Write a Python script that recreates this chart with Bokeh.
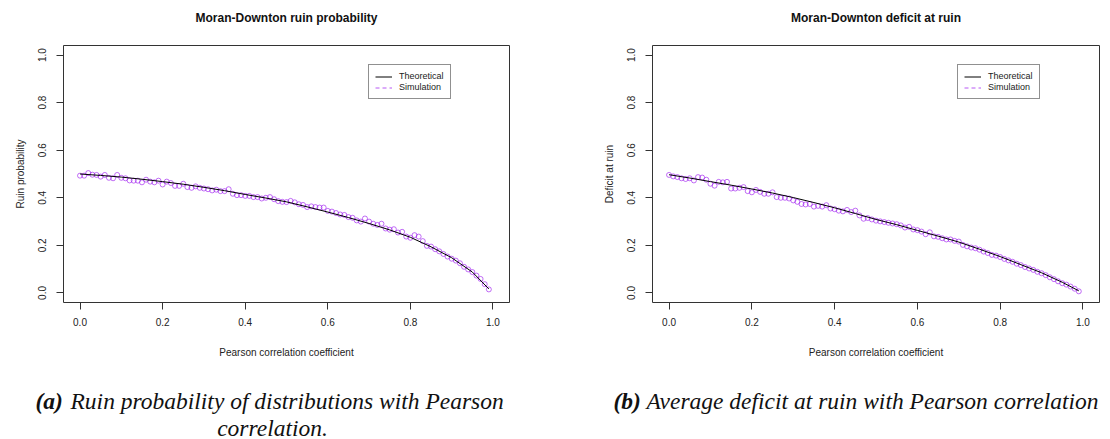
from bokeh.plotting import figure
from bokeh.layouts import row, column
from bokeh.models import FixedTicker, PrintfTickFormatter, Range1d, Legend, LegendItem
from bokeh.core.properties import value
from bokeh.embed import file_html
from bokeh.resources import INLINE

# ---------------- data ----------------
rho_sim = [0.00, 0.01, 0.02, 0.03, 0.04, 0.05, 0.06, 0.07, 0.08, 0.09,
           0.10, 0.11, 0.12, 0.13, 0.14, 0.15, 0.16, 0.17, 0.18, 0.19,
           0.20, 0.21, 0.22, 0.23, 0.24, 0.25, 0.26, 0.27, 0.28, 0.29,
           0.30, 0.31, 0.32, 0.33, 0.34, 0.35, 0.36, 0.37, 0.38, 0.39,
           0.40, 0.41, 0.42, 0.43, 0.44, 0.45, 0.46, 0.47, 0.48, 0.49,
           0.50, 0.51, 0.52, 0.53, 0.54, 0.55, 0.56, 0.57, 0.58, 0.59,
           0.60, 0.61, 0.62, 0.63, 0.64, 0.65, 0.66, 0.67, 0.68, 0.69,
           0.70, 0.71, 0.72, 0.73, 0.74, 0.75, 0.76, 0.77, 0.78, 0.79,
           0.80, 0.81, 0.82, 0.83, 0.84, 0.85, 0.86, 0.87, 0.88, 0.89,
           0.90, 0.91, 0.92, 0.93, 0.94, 0.95, 0.96, 0.97, 0.98, 0.99]

rho_th = [0.00, 0.05, 0.10, 0.15, 0.20, 0.25, 0.30, 0.35, 0.40, 0.45, 0.50,
          0.55, 0.60, 0.65, 0.70, 0.75, 0.80, 0.85, 0.90, 0.95, 0.99]

ruin_theoretical = [0.500, 0.494, 0.487, 0.478, 0.468, 0.457, 0.444, 0.430, 0.414, 0.399, 0.383,
                    0.362, 0.340, 0.317, 0.292, 0.265, 0.234, 0.194, 0.148, 0.088, 0.017]

ruin_simulation = [0.493, 0.493, 0.504, 0.497, 0.496, 0.489, 0.496, 0.484, 0.482, 0.496,
                   0.484, 0.482, 0.473, 0.472, 0.472, 0.465, 0.476, 0.468, 0.465, 0.472,
                   0.456, 0.468, 0.462, 0.450, 0.450, 0.459, 0.445, 0.442, 0.448, 0.442,
                   0.439, 0.436, 0.431, 0.434, 0.428, 0.428, 0.436, 0.417, 0.411, 0.411,
                   0.408, 0.408, 0.403, 0.403, 0.397, 0.400, 0.403, 0.394, 0.386, 0.383,
                   0.382, 0.387, 0.381, 0.373, 0.370, 0.361, 0.364, 0.361, 0.359, 0.359,
                   0.345, 0.342, 0.336, 0.330, 0.328, 0.319, 0.316, 0.305, 0.300, 0.313,
                   0.300, 0.291, 0.286, 0.291, 0.271, 0.266, 0.268, 0.254, 0.257, 0.237,
                   0.232, 0.243, 0.237, 0.218, 0.198, 0.195, 0.184, 0.175, 0.164, 0.153,
                   0.144, 0.136, 0.125, 0.110, 0.099, 0.088, 0.073, 0.059, 0.037, 0.015]

deficit_theoretical = [0.497, 0.483, 0.468, 0.453, 0.437, 0.420, 0.401, 0.380, 0.358, 0.334, 0.309,
                       0.287, 0.263, 0.239, 0.214, 0.184, 0.153, 0.119, 0.085, 0.045, 0.009]

deficit_simulation = [0.496, 0.490, 0.487, 0.482, 0.479, 0.482, 0.473, 0.487, 0.485, 0.476,
                      0.459, 0.451, 0.467, 0.465, 0.467, 0.439, 0.439, 0.442, 0.445, 0.428,
                      0.423, 0.433, 0.425, 0.417, 0.417, 0.423, 0.403, 0.400, 0.400, 0.397,
                      0.389, 0.383, 0.374, 0.372, 0.374, 0.363, 0.366, 0.363, 0.369, 0.355,
                      0.352, 0.346, 0.343, 0.349, 0.340, 0.346, 0.326, 0.312, 0.315, 0.309,
                      0.304, 0.301, 0.298, 0.295, 0.292, 0.289, 0.284, 0.275, 0.278, 0.267,
                      0.264, 0.258, 0.247, 0.255, 0.238, 0.236, 0.230, 0.225, 0.225, 0.219,
                      0.216, 0.202, 0.196, 0.191, 0.188, 0.182, 0.174, 0.168, 0.160, 0.157,
                      0.151, 0.143, 0.137, 0.131, 0.123, 0.117, 0.109, 0.103, 0.097, 0.089,
                      0.083, 0.075, 0.066, 0.058, 0.049, 0.041, 0.035, 0.027, 0.018, 0.007]

axis_ticks = [0.0, 0.2, 0.4, 0.6, 0.8, 1.0]
legend_labels = ["Theoretical", "Simulation"]

titles = ["Moran-Downton ruin probability", "Moran-Downton deficit at ruin"]
ylabels = ["Ruin probability", "Deficit at ruin"]
xlabel = "Pearson correlation coefficient"

caption_tags = ["(a)", "(b)"]
caption_texts = ["Ruin probability of distributions with Pearson",
                 "Average deficit at ruin with Pearson correlation"]
caption_cont = "correlation."

# ---------------- styling ----------------
SANS = "Liberation Sans"
SERIF = "Liberation Serif"
PURPLE = "#A020F0"
X0, X1 = -0.04, 1.04
Y0, Y1 = -0.04, 1.04
W_TOTAL = 1110
PANEL_W = 555
TITLE_H = 30
FIG_H = 332
TOP, BOTTOM = 15, 60
CAP_H = 439 - TITLE_H - FIG_H
NAN = float("nan")


def make_panel(ylabel, theo, sim, border_left, border_right):
    p = figure(width=PANEL_W, height=FIG_H, output_backend="svg", toolbar_location=None,
               x_range=Range1d(X0, X1), y_range=Range1d(Y0, Y1),
               min_border_left=border_left, min_border_right=border_right,
               min_border_top=TOP, min_border_bottom=BOTTOM,
               background_fill_color="white", border_fill_color="white")
    p.grid.visible = False
    p.outline_line_color = "#333333"
    p.outline_line_width = 1

    for ax in (p.xaxis[0], p.yaxis[0]):
        ax.ticker = FixedTicker(ticks=axis_ticks)
        ax.formatter = PrintfTickFormatter(format="%.1f")
        ax.axis_line_color = None
        ax.major_tick_line_color = "#333333"
        ax.major_tick_out = 7
        ax.major_tick_in = 0
        ax.minor_tick_line_color = None
        ax.major_label_text_font = SANS
        ax.major_label_text_font_size = "10px"
        ax.major_label_text_color = "#222222"
        ax.axis_label_text_font = SANS
        ax.axis_label_text_font_size = "10px"
        ax.axis_label_text_font_style = "normal"
        ax.axis_label_text_color = "#222222"

    p.xaxis[0].axis_label = xlabel
    p.xaxis[0].major_label_standoff = 8
    p.xaxis[0].axis_label_standoff = 18
    p.yaxis[0].axis_label = ylabel
    p.yaxis[0].major_label_orientation = "vertical"
    p.yaxis[0].major_label_standoff = 10
    p.yaxis[0].axis_label_standoff = 10

    p.scatter(rho_sim, sim, marker="circle", size=5, fill_color=None,
              line_color=PURPLE, line_alpha=0.65, line_width=1)
    ln = p.line(rho_th, theo, line_color="black", line_width=1)
    # legend proxy for the simulation entry (dashed line, nothing drawn in the frame)
    proxy = p.line([NAN, NAN], [NAN, NAN], line_color=PURPLE, line_alpha=0.75,
                   line_dash="4 3", line_width=1)

    legend = Legend(items=[LegendItem(label=legend_labels[0], renderers=[ln]),
                           LegendItem(label=legend_labels[1], renderers=[proxy])],
                    location=(305, 203))
    legend.border_line_color = "#222222"
    legend.border_line_width = 1
    legend.background_fill_color = "white"
    legend.background_fill_alpha = 1
    legend.label_text_font = SANS
    legend.label_text_font_size = "9px"
    legend.label_text_color = "#222222"
    legend.glyph_width = 17
    legend.glyph_height = 9
    legend.label_height = 10
    legend.label_standoff = 7
    legend.padding = 6
    legend.spacing = 1
    legend.margin = 0
    p.add_layout(legend, "center")
    return p


def strip(height):
    s = figure(width=W_TOTAL, height=height, output_backend="svg", toolbar_location=None,
               x_range=Range1d(0, W_TOTAL), y_range=Range1d(height, 0),
               x_axis_type=None, y_axis_type=None, min_border=0,
               background_fill_color="white", border_fill_color="white")
    s.outline_line_color = None
    s.grid.visible = False
    return s


# title strip
top = strip(TITLE_H)
top.text(x=[286, 875.5], y=[17, 17], text=titles, text_font=value(SANS), text_font_size="12px",
         text_font_style="bold", text_color="#111111", text_align="center", text_baseline="middle")

left = make_panel(ylabels[0], ruin_theoretical, ruin_simulation, 63, 46)
right = make_panel(ylabels[1], deficit_theoretical, deficit_simulation, 97, 11)

# caption strip
cap = strip(CAP_H)
cap_font = dict(text_font=value(SERIF), text_font_size="23.5px", text_color="#111111",
                text_baseline="middle")
cap.text(x=[35, 613], y=[38, 38], text=caption_tags, text_font_style="bold italic",
         text_align="left", **cap_font)
cap.text(x=[70, 646], y=[38, 38], text=caption_texts, text_font_style="italic",
         text_align="left", **cap_font)
cap.text(x=[272], y=[65], text=[caption_cont], text_font_style="italic",
         text_align="center", **cap_font)

layout = column(top, row(left, right, spacing=0), cap, spacing=0)
open("out.html", "w").write(file_html(layout, INLINE))
